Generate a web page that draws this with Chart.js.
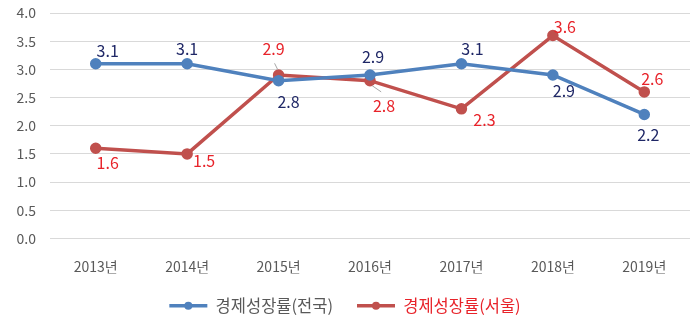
<!DOCTYPE html>
<html>
<head>
<meta charset="utf-8">
<script src="https://cdn.jsdelivr.net/npm/chart.js@4/dist/chart.umd.min.js"></script>
<style>
  html, body { margin: 0; padding: 0; background: #fff; }
  #wrap { width: 699px; height: 329px; }
</style>
</head>
<body>
<div id="wrap"><canvas id="myChart" width="699" height="329"></canvas></div>
<script>
// 연도별 경제성장률 데이터
const years = ['2013년', '2014년', '2015년', '2016년', '2017년', '2018년', '2019년'];
const growthNation = [3.1, 3.1, 2.8, 2.9, 3.1, 2.9, 2.2];
const growthSeoul = [1.6, 1.5, 2.9, 2.8, 2.3, 3.6, 2.6];
const seriesNames = ['경제성장률(전국)', '경제성장률(서울)'];

const FONT = '"Noto Sans CJK KR", "Noto Sans", sans-serif';
const BLUE = '#4F81BD';
const RED = '#C0504D';
const LEGEND_LINE = 38;

// 데이터 레이블 위치 (점 기준 x, y 이동량)
const labelOffsets = [
    [[12, -13], [0, -15], [10, 21], [3, -18], [11, -15], [11, 16], [4, 20]],
    [[12, 15], [17, 7], [-5, -26], [14, 25], [23, 11], [12, -9], [8, -13]]
];
const labelColors = ['#1F2766', '#E8232A'];
// 레이블과 점을 잇는 선이 필요한 곳
const leaders = { '1-2': true, '1-3': true };

const valueLabels = {
    id: 'valueLabels',
    afterDatasetsDraw(chart) {
        const ctx = chart.ctx;
        ctx.save();
        ctx.font = '16px ' + FONT;
        ctx.textAlign = 'center';
        ctx.textBaseline = 'middle';
        chart.data.datasets.forEach((ds, i) => {
            chart.getDatasetMeta(i).data.forEach((pt, j) => {
                const off = labelOffsets[i][j];
                const x = pt.x + off[0], y = pt.y + off[1];
                if (leaders[i + '-' + j]) {
                    ctx.strokeStyle = '#a6a6a6';
                    ctx.lineWidth = 1;
                    ctx.beginPath();
                    ctx.moveTo(x - off[0] * 0.2, y - off[1] * 0.55);
                    ctx.lineTo(pt.x + off[0] * 0.15, pt.y + off[1] * 0.2);
                    ctx.stroke();
                }
                ctx.fillStyle = labelColors[i];
                ctx.fillText(ds.data[j].toFixed(1), x, y);
            });
        });
        ctx.restore();
    }
};

// 범례 선 가운데 원 표시
const legendDots = {
    id: 'legendDots',
    afterDraw(chart) {
        const lg = chart.legend;
        if (!lg || !lg.legendHitBoxes) return;
        const ctx = chart.ctx;
        ctx.save();
        lg.legendHitBoxes.forEach((box, i) => {
            ctx.fillStyle = chart.data.datasets[i].borderColor;
            ctx.beginPath();
            ctx.arc(box.left + LEGEND_LINE / 2, box.top + box.height / 2, 4, 0, Math.PI * 2);
            ctx.fill();
        });
        ctx.restore();
    }
};

new Chart(document.getElementById('myChart'), {
    type: 'line',
    data: {
        labels: years,
        datasets: [{
            label: seriesNames[0],
            data: growthNation,
            borderColor: BLUE,
            backgroundColor: BLUE,
            borderWidth: 3.5,
            pointRadius: 4,
            pointHoverRadius: 4,
            tension: 0
        }, {
            label: seriesNames[1],
            data: growthSeoul,
            borderColor: RED,
            backgroundColor: RED,
            borderWidth: 3.5,
            pointRadius: 4,
            pointHoverRadius: 4,
            tension: 0
        }]
    },
    options: {
        responsive: false,
        animation: false,
        layout: { padding: { left: 0, right: 9, top: 13, bottom: 5 } },
        scales: {
            x: {
                offset: true,
                grid: { display: false, drawTicks: false },
                border: { display: false },
                ticks: { color: '#595959', font: { family: FONT, size: 14 }, padding: 20, maxRotation: 0, autoSkip: false },
                afterFit(scale) { scale.height = 35; }
            },
            y: {
                min: 0,
                max: 4,
                grid: { color: '#d9d9d9', lineWidth: 1, drawTicks: false },
                border: { display: false },
                ticks: {
                    stepSize: 0.5,
                    color: '#595959',
                    font: { family: FONT, size: 14 },
                    padding: 14,
                    callback: v => v.toFixed(1)
                },
                afterFit(scale) {
                    scale.width = 50;
                    scale.paddingTop = 0;
                    scale.paddingBottom = 0;
                }
            }
        },
        plugins: {
            legend: {
                position: 'bottom',
                labels: {
                    font: { family: FONT, size: 16.5 },
                    usePointStyle: true,
                    pointStyle: 'line',
                    pointStyleWidth: LEGEND_LINE,
                    padding: 24,
                    generateLabels(chart) {
                        return chart.data.datasets.map((ds, i) => ({
                            text: ds.label,
                            fillStyle: ds.borderColor,
                            strokeStyle: ds.borderColor,
                            lineWidth: 3.5,
                            pointStyle: 'line',
                            fontColor: i === 0 ? '#595959' : '#E8232A',
                            datasetIndex: i,
                            hidden: false
                        }));
                    }
                }
            },
            tooltip: { enabled: false }
        }
    },
    plugins: [valueLabels, legendDots]
});
</script>
</body>
</html>
